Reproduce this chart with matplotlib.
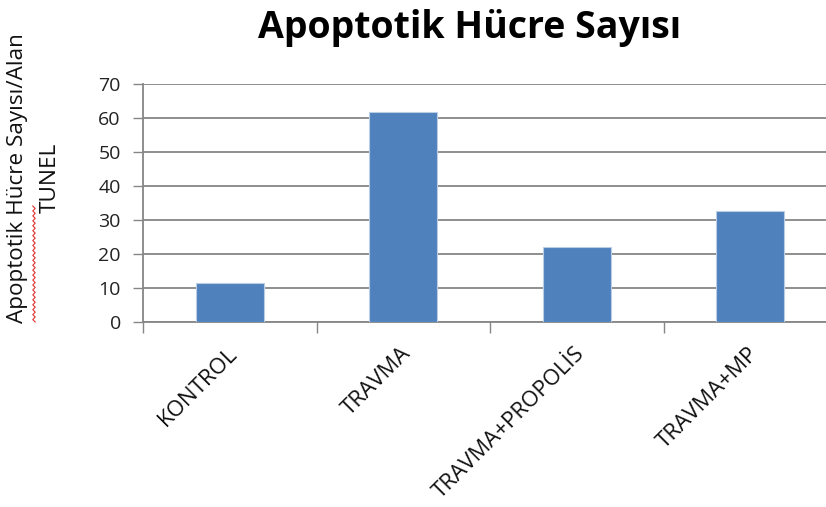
import numpy as np
import matplotlib
matplotlib.use("Agg")
import matplotlib.pyplot as plt
from matplotlib.lines import Line2D
from matplotlib.transforms import ScaledTranslation

categories = ["KONTROL", "TRAVMA", "TRAVMA+PROPOLİS", "TRAVMA+MP"]
values = [11.5, 61.8, 22.2, 32.8]
y_ticks = [0, 10, 20, 30, 40, 50, 60, 70]

title = "Apoptotik Hücre Sayısı"
ylabel_line1 = "Apoptotik Hücre Sayısı/Alan"
ylabel_line2 = "TUNEL"

plt.rcParams["font.family"] = ["Open Sans", "DejaVu Sans"]

fig = plt.figure(figsize=(8.26, 5.07), dpi=100)
ax = fig.add_axes([143 / 826, 1 - 322.3 / 507, 694 / 826, 238 / 507])

x = np.arange(len(categories))
ax.bar(x, values, width=0.39, color="#4F81BD", edgecolor="#B9CDE5",
       linewidth=0.8, zorder=3)

ax.set_xlim(-0.5, len(categories) - 0.5)
ax.set_ylim(0, 70)
ax.set_yticks(y_ticks)
ax.set_yticklabels([str(t) for t in y_ticks], fontsize=14, color="#222222")

# category ticks sit on the boundaries between groups
ax.set_xticks(np.arange(len(categories) + 1) - 0.5, minor=False)
ax.set_xticklabels([])
ax.tick_params(axis="x", which="major", length=8, width=1, color="#868686",
               direction="out")
ax.tick_params(axis="y", length=7, width=1, color="#868686", direction="out",
               pad=9)
ax.set_xticks(x, minor=True)
ax.set_xticklabels(categories, minor=True, rotation=45, ha="right",
                   rotation_mode="anchor", fontsize=16, color="#111111")
ax.tick_params(axis="x", which="minor", length=0, pad=15)
shift = ScaledTranslation(-3 / 100, 0, fig.dpi_scale_trans)
for lbl in ax.get_xticklabels(minor=True):
    lbl.set_transform(lbl.get_transform() + shift)

ax.grid(axis="y", color="#868686", linewidth=1.3, zorder=0)
for side in ["top", "right"]:
    ax.spines[side].set_visible(False)
for side in ["left", "bottom"]:
    ax.spines[side].set_color("#868686")
    ax.spines[side].set_linewidth(1.3)

fig.text(470 / 826, 1 - 28 / 507, title, ha="center", va="center",
         fontsize=27, fontweight="bold", color="#000000")

fig.text(18 / 826, 1 - 178 / 507, ylabel_line1, rotation=90, ha="center",
         va="center", fontsize=16.2, color="#111111")
fig.text(50 / 826, 1 - 178 / 507, ylabel_line2, rotation=90, ha="center",
         va="center", fontsize=16.2, color="#111111")

# spell-check wavy underline beside the first word of the axis title
n = 48
wy = np.linspace(206, 322, n)
wx = 34 + 1.2 * np.where(np.arange(n) % 2 == 0, -1, 1)
fig.add_artist(Line2D(wx / 826, 1 - wy / 507, color="#E03030", linewidth=0.8,
                      transform=fig.transFigure))

fig.savefig("out.png", dpi=100)
